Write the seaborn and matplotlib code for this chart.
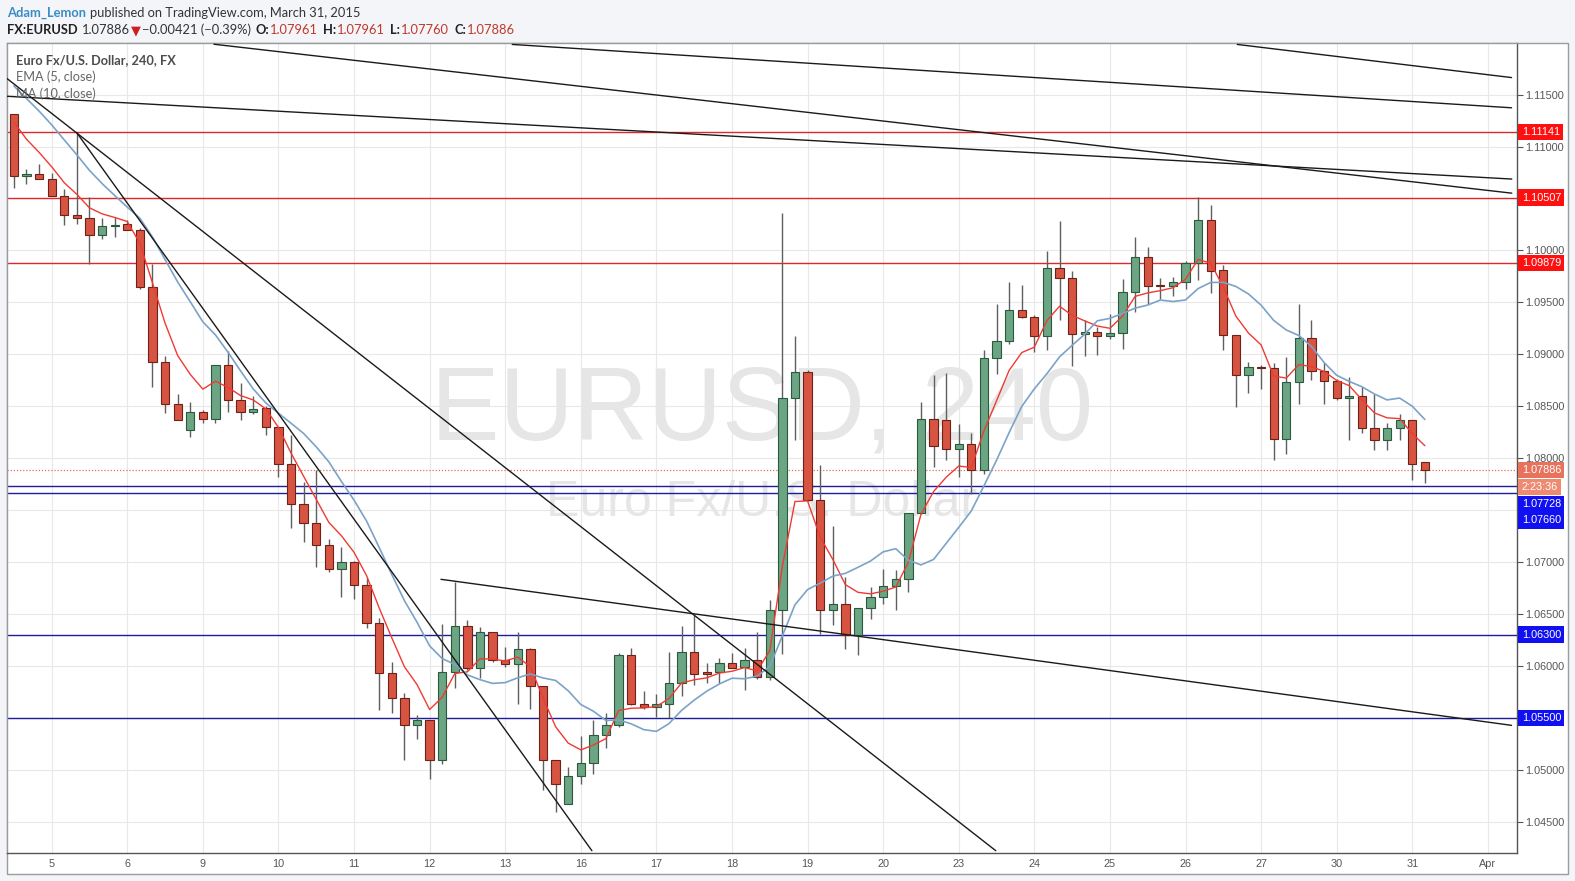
import numpy as np
import pandas as pd
import matplotlib
matplotlib.use("Agg")
import matplotlib.pyplot as plt
from matplotlib.patches import Rectangle
import seaborn as sns

# 4h candles, EURUSD, Mar 4 - Mar 31 2015
opens = [1.11317, 1.10713, 1.10739, 1.10691, 1.10527, 1.10344, 1.10315, 1.10152, 1.10235, 1.10251,
         1.10200, 1.09648, 1.08925, 1.08524, 1.08274, 1.08444, 1.08380, 1.08893, 1.08562, 1.08444,
         1.08478, 1.08302, 1.07939, 1.07554, 1.07377, 1.07159, 1.06937, 1.06995, 1.06774, 1.06417,
         1.05933, 1.05695, 1.05435, 1.05477, 1.05098, 1.05936, 1.06382, 1.05975, 1.06321, 1.06055,
         1.06013, 1.06158, 1.05804, 1.05092, 1.04665, 1.04941, 1.05060, 1.05330, 1.05426, 1.06109,
         1.05637, 1.05599, 1.05637, 1.05839, 1.06135, 1.05939, 1.05936, 1.06023, 1.05984, 1.06055,
         1.05888, 1.06535, 1.08583, 1.08830, 1.07600, 1.06541, 1.06599, 1.06294, 1.06560, 1.06663,
         1.06769, 1.06840, 1.07475, 1.08380, 1.08364, 1.08091, 1.08140, 1.07883, 1.08968, 1.09129,
         1.09430, 1.09360, 1.09173, 1.09835, 1.09739, 1.09199, 1.09215, 1.09173, 1.09206, 1.09601,
         1.09938, 1.09664, 1.09658, 1.09697, 1.09883, 1.10297, 1.09809, 1.09190, 1.08805, 1.08879,
         1.08863, 1.08188, 1.08734, 1.09161, 1.08840, 1.08744, 1.08574, 1.08596, 1.08294, 1.08179,
         1.08294, 1.08365, 1.07961]
highs = [1.11317, 1.10781, 1.10829, 1.10745, 1.10588, 1.11134, 1.10514, 1.10315, 1.10322, 1.10290,
         1.10220, 1.09866, 1.08980, 1.08614, 1.08540, 1.08460, 1.08893, 1.09031, 1.08723, 1.08595,
         1.08500, 1.08302, 1.08221, 1.07772, 1.07884, 1.07226, 1.07146, 1.07010, 1.06841, 1.06460,
         1.06039, 1.05740, 1.05525, 1.05477, 1.06398, 1.06809, 1.06446, 1.06376, 1.06330, 1.06183,
         1.06327, 1.06170, 1.05804, 1.05092, 1.05028, 1.05323, 1.05483, 1.05547, 1.06125, 1.06167,
         1.05759, 1.05727, 1.06129, 1.06385, 1.06494, 1.06023, 1.06071, 1.06119, 1.06174, 1.06328,
         1.06633, 1.10361, 1.09173, 1.08852, 1.07931, 1.07344, 1.06856, 1.06560, 1.06759, 1.06936,
         1.06920, 1.07475, 1.08541, 1.08798, 1.08824, 1.08326, 1.08246, 1.09039, 1.09488, 1.09697,
         1.09665, 1.09380, 1.09992, 1.10281, 1.09803, 1.09328, 1.09264, 1.09392, 1.09729, 1.10130,
         1.10034, 1.09739, 1.09745, 1.09900, 1.10516, 1.10435, 1.09857, 1.09190, 1.08926, 1.08895,
         1.08911, 1.08975, 1.09482, 1.09328, 1.08911, 1.08760, 1.08782, 1.08686, 1.08622, 1.08339,
         1.08429, 1.08365, 1.07961]
lows = [1.10604, 1.10636, 1.10691, 1.10527, 1.10248, 1.10257, 1.09866, 1.10110, 1.10129, 1.10200,
        1.09632, 1.08685, 1.08434, 1.08363, 1.08203, 1.08341, 1.08341, 1.08444, 1.08363, 1.08420,
        1.08221, 1.07820, 1.07329, 1.07194, 1.06953, 1.06905, 1.06665, 1.06639, 1.06360, 1.05573,
        1.05547, 1.05092, 1.05300, 1.04915, 1.05059, 1.05782, 1.05960, 1.05879, 1.06040, 1.05990,
        1.05631, 1.05589, 1.04803, 1.04594, 1.04665, 1.04867, 1.04963, 1.05211, 1.05407, 1.05620,
        1.05580, 1.05503, 1.05493, 1.05708, 1.05814, 1.05830, 1.05830, 1.05975, 1.05772, 1.05870,
        1.05862, 1.06117, 1.08178, 1.07590, 1.06310, 1.06390, 1.06166, 1.06101, 1.06454, 1.06592,
        1.06541, 1.06711, 1.07460, 1.07915, 1.07979, 1.07819, 1.07658, 1.07851, 1.08814, 1.09096,
        1.09350, 1.09023, 1.09039, 1.09334, 1.08888, 1.08987, 1.08991, 1.09150, 1.09055, 1.09408,
        1.09482, 1.09536, 1.09559, 1.09633, 1.09713, 1.09591, 1.09039, 1.08493, 1.08628, 1.08670,
        1.07986, 1.08044, 1.08519, 1.08750, 1.08525, 1.08560, 1.08179, 1.08243, 1.08076, 1.08076,
        1.08179, 1.07794, 1.07760]
closes = [1.10713, 1.10739, 1.10691, 1.10527, 1.10344, 1.10315, 1.10152, 1.10235, 1.10248, 1.10200,
          1.09648, 1.08925, 1.08524, 1.08363, 1.08444, 1.08380, 1.08893, 1.08562, 1.08444, 1.08476,
          1.08302, 1.07939, 1.07554, 1.07377, 1.07159, 1.06937, 1.06995, 1.06774, 1.06417, 1.05933,
          1.05695, 1.05435, 1.05477, 1.05098, 1.05936, 1.06382, 1.05975, 1.06321, 1.06055, 1.06013,
          1.06158, 1.05804, 1.05092, 1.04858, 1.04941, 1.05060, 1.05330, 1.05426, 1.06109, 1.05637,
          1.05599, 1.05637, 1.05839, 1.06135, 1.05926, 1.05923, 1.06023, 1.05981, 1.06055, 1.05888,
          1.06535, 1.08583, 1.08830, 1.07600, 1.06541, 1.06599, 1.06294, 1.06560, 1.06663, 1.06769,
          1.06840, 1.07475, 1.08380, 1.08117, 1.08091, 1.08140, 1.07883, 1.08968, 1.09129, 1.09430,
          1.09360, 1.09173, 1.09835, 1.09739, 1.09199, 1.09215, 1.09173, 1.09206, 1.09601, 1.09938,
          1.09658, 1.09655, 1.09697, 1.09883, 1.10297, 1.09803, 1.09190, 1.08805, 1.08878, 1.08863,
          1.08188, 1.08734, 1.09161, 1.08840, 1.08744, 1.08574, 1.08596, 1.08294, 1.08179, 1.08294,
          1.08365, 1.07948, 1.07886]
# closes before the visible window, only to warm up the EMA / MA
warmup_close = [1.1195, 1.1190, 1.1185, 1.1180, 1.1175, 1.1165, 1.1150, 1.1140, 1.1132]

day_labels = ['5', '6', '9', '10', '11', '12', '13', '16', '17', '18',
              '19', '20', '23', '24', '25', '26', '27', '30', '31', 'Apr']
day_first_bar = 3
bars_per_day = 6

price_ticks = [1.045, 1.050, 1.055, 1.060, 1.065, 1.070, 1.075, 1.080,
               1.085, 1.090, 1.095, 1.100, 1.105, 1.110, 1.115]
# tick labels covered by the level tags on the price scale
hidden_ticks = [1.055, 1.075, 1.105]

red_levels = [1.11141, 1.10507, 1.09879]
blue_levels = [1.07728, 1.07660, 1.06300, 1.05500]
last_price = 1.07886
countdown = '2:23:36'

# drawn trend lines: (bar, price) -> (bar, price)
trend_lines = [
    (15.88, 1.11985, 118.90, 1.10551),
    (-0.57, 1.11484, 118.90, 1.10687),
    (39.56, 1.11983, 118.88, 1.11373),
    (97.11, 1.11983, 118.88, 1.11664),
    (-0.57, 1.11657, 77.94, 1.04220),
    (4.98, 1.11135, 45.88, 1.04220),
    (33.90, 1.06833, 118.88, 1.05427),
]

df = pd.DataFrame({'open': opens, 'high': highs, 'low': lows, 'close': closes})
df['bar'] = np.arange(len(df))
full = pd.Series(warmup_close + closes)
df['ema5'] = full.ewm(span=5, adjust=False).mean().iloc[len(warmup_close):].values
df['ma10'] = full.rolling(10).mean().iloc[len(warmup_close):].values

sns.set_theme(style='white')
plt.rcParams['font.family'] = ['Liberation Sans', 'DejaVu Sans']

W, H = 1575, 881
fig = plt.figure(figsize=(W / 100, H / 100), dpi=100, facecolor='#f3f5f8')
frame = Rectangle((6.7 / W, 1 - 874 / H), (1568.3 - 6.7) / W, (874 - 43.3) / H,
                  transform=fig.transFigure, facecolor='white', edgecolor='#9c9c9c',
                  lw=1, zorder=-1)
fig.add_artist(frame)
ax = fig.add_axes([6.7 / W, 1 - 853.3 / H, 1510 / W, 810 / H])
ax.set_facecolor('white')

# watermark
ax.text(0.5, 0.5436, 'EURUSD, 240', transform=ax.transAxes, ha='center', va='center',
        fontsize=74, color='#e6e6e6', zorder=1)
ax.text(0.5, 0.4325, 'Euro Fx/U.S. Dollar', transform=ax.transAxes, ha='center', va='center',
        fontsize=36, color='#e6e6e6', zorder=1)

# candles
up = df['close'] >= df['open']
body_lo = np.minimum(df['open'], df['close'])
body_h = np.maximum((df['close'] - df['open']).abs(), 0.00004)
ax.vlines(df['bar'], df['low'], df['high'], color='#5f5f5f', lw=1, zorder=3)
ax.bar(df['bar'], body_h, bottom=body_lo, width=0.66,
       color=np.where(up, '#6ba583', '#d75442'),
       edgecolor=np.where(up, '#2b5a3c', '#6e2118'), linewidth=0.8, zorder=4)

# horizontal levels
for lv in red_levels:
    ax.axhline(lv, color='#e0282b', lw=1, zorder=2.5)
for lv in blue_levels:
    ax.axhline(lv, color='#1c1c9c', lw=1, zorder=2.5)
ax.axhline(last_price, color='#e0705c', lw=0.9, ls=(0, (1, 1.5)), zorder=2.5)

# indicators
sns.lineplot(data=df, x='bar', y='ema5', color='#f03a32', lw=1, ax=ax, zorder=5)
sns.lineplot(data=df, x='bar', y='ma10', color='#7ba3c8', lw=1.2, ax=ax, zorder=5)

# trend lines
for b0, p0, b1, p1 in trend_lines:
    ax.plot([b0, b1], [p0, p1], color='#1a1a1a', lw=1, zorder=6)

ax.set_xlim(-0.571, 119.29)
ax.set_ylim(1.04195, 1.11994)
ax.set_xlabel('')
ax.set_ylabel('')

ax.set_xticks(day_first_bar + bars_per_day * np.arange(len(day_labels)))
ax.set_xticklabels(day_labels)
ax.yaxis.tick_right()
ax.set_yticks(price_ticks)
ax.set_yticklabels(['' if p in hidden_ticks else f'{p:.5f}' for p in price_ticks])
ax.tick_params(axis='y', length=4, width=0.8, color='#555555', labelsize=7.8,
               labelcolor='#555555', pad=2)
ax.tick_params(axis='x', length=0, pad=4, labelsize=7.8, labelcolor='#555555')
ax.grid(True, color='#e8e8e8', lw=0.8)
ax.set_axisbelow(True)
for side in ['left', 'top']:
    ax.spines[side].set_color('#9c9c9c')
    ax.spines[side].set_linewidth(1)
for side in ['right', 'bottom']:
    ax.spines[side].set_color('#555555')
    ax.spines[side].set_linewidth(1)


def price_tag(text, price, fc, dy=0, tc='white'):
    ax.annotate(text, xy=(1, price), xycoords=ax.get_yaxis_transform(),
                xytext=(5, dy), textcoords='offset pixels', ha='left', va='center',
                fontsize=7.8, color=tc, annotation_clip=False, zorder=10,
                bbox=dict(boxstyle='square,pad=0.3', fc=fc, ec='none'))


for lv in red_levels:
    price_tag(f'{lv:.5f}', lv, '#ff1010')
price_tag(f'{last_price:.5f}', last_price, '#e8735d')
price_tag(countdown, last_price, '#ef8a72', dy=-17)
price_tag(f'{blue_levels[0]:.5f}', blue_levels[0], '#1010f0', dy=-18)
price_tag(f'{blue_levels[1]:.5f}', blue_levels[1], '#1010f0', dy=-27)
for lv in blue_levels[2:]:
    price_tag(f'{lv:.5f}', lv, '#1010f0')

lato = ['Lato', 'DejaVu Sans']
fig.canvas.draw()
renderer = fig.canvas.get_renderer()


def text_row(x, y, pieces, size=9.3):
    # pieces: (text, colour, weight, gap after in px)
    for s, color, weight, gap in pieces:
        t = fig.text(x / W, 1 - y / H, s, color=color, fontweight=weight, fontsize=size,
                     family=lato, va='center', ha='left')
        x += t.get_window_extent(renderer).width + gap


# header rows
text_row(7, 13, [('Adam_Lemon', '#3a8cc6', 'bold', 4),
                 ('published on TradingView.com, March 31, 2015', '#333333', 'normal', 0)])
val_red = '#c0392b'
text_row(7, 30, [('FX:EURUSD', '#222222', 'bold', 4),
                 ('1.07886', '#333333', 'normal', 1),
                 ('▼', '#cc1f1f', 'normal', 1),
                 ('\u22120.00421 (\u22120.39%)', '#333333', 'normal', 5),
                 ('O:', '#222222', 'bold', 1), ('1.07961', val_red, 'normal', 5),
                 ('H:', '#222222', 'bold', 1), ('1.07961', val_red, 'normal', 5),
                 ('L:', '#222222', 'bold', 1), ('1.07760', val_red, 'normal', 5),
                 ('C:', '#222222', 'bold', 1), ('1.07886', val_red, 'normal', 0)])

# legend-style labels inside the pane
text_row(16, 60, [('Euro Fx/U.S. Dollar, 240, FX', '#4d4d4d', 'bold', 0)], size=9.2)
text_row(16, 77, [('EMA (5, close)', '#666666', 'normal', 0)], size=9.2)
text_row(16, 94, [('MA (10, close)', '#666666', 'normal', 0)], size=9.2)

fig.savefig('out.png', dpi=100, facecolor=fig.get_facecolor())
